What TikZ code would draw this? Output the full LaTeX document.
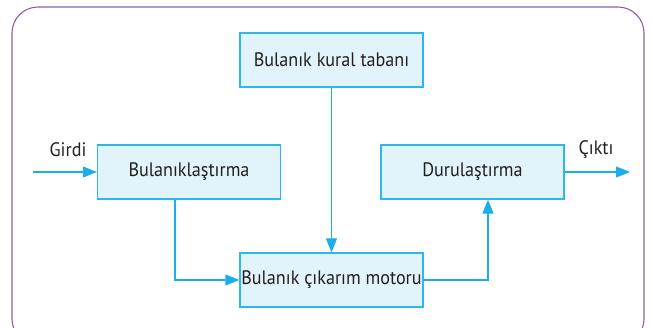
\documentclass[tikz,border=0pt]{standalone}
\usepackage{fontspec}
\setmainfont[FakeStretch=0.93]{PT Sans}
\usetikzlibrary{arrows.meta}
\definecolor{boxfill}{HTML}{E1F3FB}
\definecolor{boxline}{HTML}{2DB7EE}
\definecolor{arrowc}{HTML}{1DAEEA}
\definecolor{framec}{HTML}{8E5FA8}
\definecolor{txt}{HTML}{231F20}
\tikzset{
  blockbox/.style={draw=boxline, line width=1.3pt, fill=boxfill, minimum width=183pt, minimum height=54pt, inner sep=0pt, font=\fontsize{19.5}{21}\selectfont, text=txt},
  flow/.style={draw=arrowc, line width=1.1pt, -{Triangle[length=14pt,width=11pt]}},
  lbl/.style={font=\fontsize{19.5}{21}\selectfont, text=txt, inner sep=0pt}
}
\begin{document}
\begin{tikzpicture}[x=1pt,y=-1pt]
\useasboundingbox (0,0) rectangle (653,328);
\begin{scope}
\clip (0,0) rectangle (653,328);
\draw[framec, line width=1.1pt, rounded corners=26pt] (12,7) rectangle (644,345);
\end{scope}
\node[blockbox] (kural) at (331.5,60) {Bulanık kural tabanı};
\node[blockbox] (bulan) at (189,172) {Bulanıklaştırma};
\node[blockbox] (durul) at (472.5,172) {Durulaştırma};
\node[blockbox] (motor) at (331.5,280) {Bulanık çıkarım motoru};
\coordinate (in) at (33,172);
\coordinate (out) at (630,172);
\node[lbl] (girdi) at (68,150) {Girdi};
\node[lbl] (cikti) at (596,150) {Çıktı};
\draw[flow] (in) -- (bulan.west);
\draw[flow] (durul.east) -- (out);
\draw[flow] (kural.south) -- (motor.north);
\draw[flow] (bulan.south -| 175,0) |- (motor.west);
\draw[flow] (motor.east) -| (durul.south -| 488,0);
\end{tikzpicture}
\end{document}
